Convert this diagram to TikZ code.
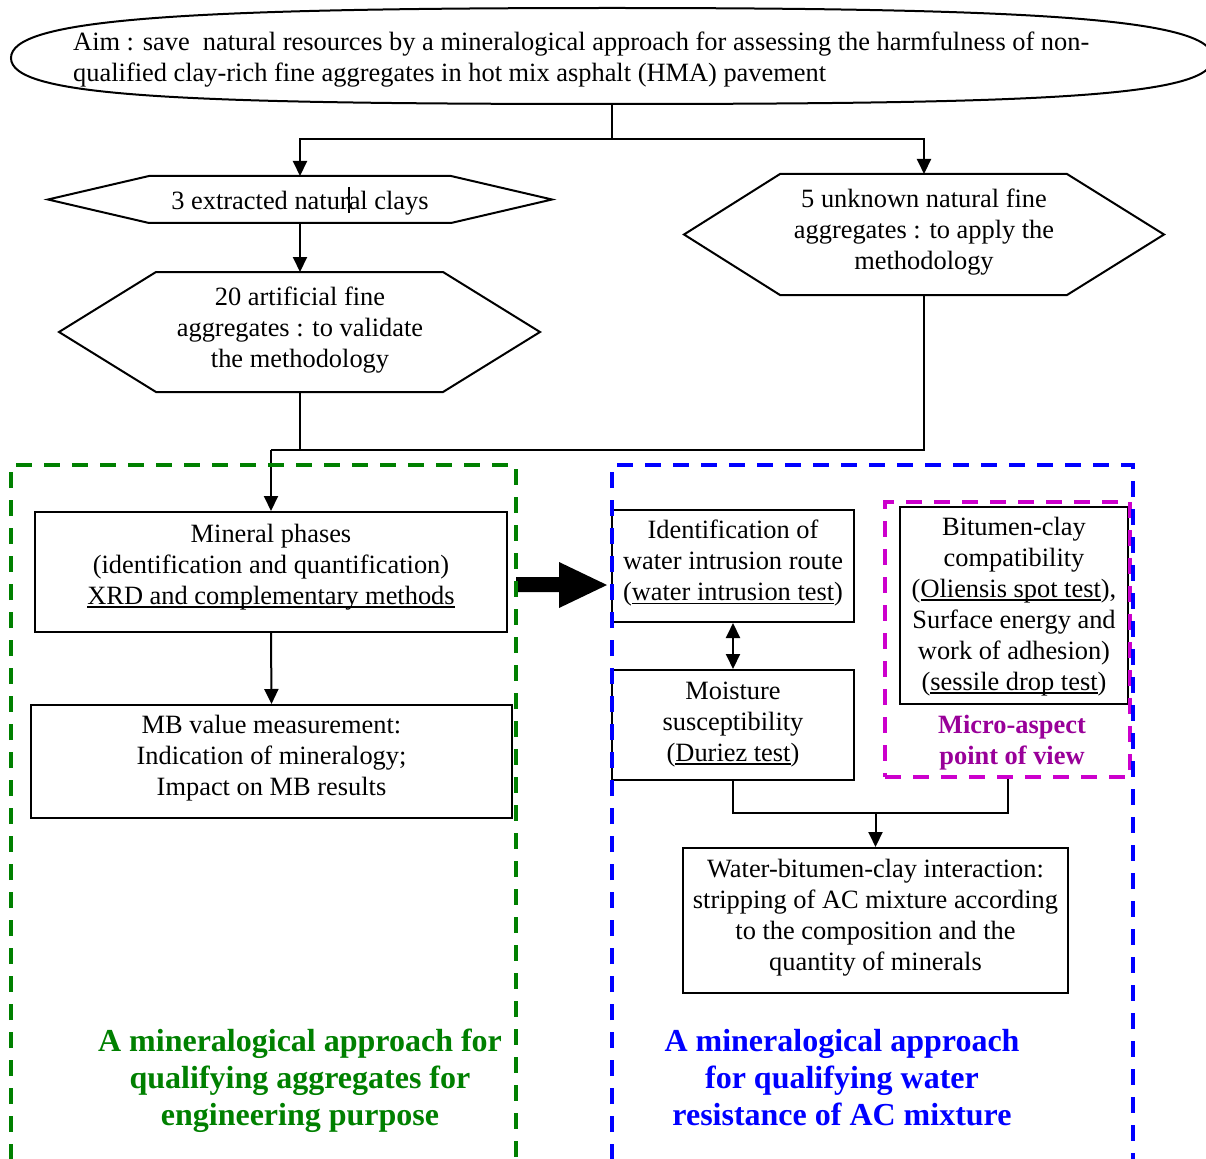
\documentclass[tikz,border=0pt]{standalone}
\usepackage{fontspec}
\setmainfont{Liberation Serif}
\usetikzlibrary{arrows.meta,shapes.geometric}
\definecolor{dgreen}{RGB}{0,128,0}
\definecolor{mblue}{RGB}{0,0,255}
\definecolor{mmag}{RGB}{204,0,204}
\definecolor{mpurp}{RGB}{153,0,153}
\newcommand\ulx[1]{\setbox0\hbox{#1}\rlap{\rule[-3.5pt]{\wd0}{1.6pt}}\box0}
\begin{document}
\begin{tikzpicture}[x=1pt,y=-1pt,
  txt/.style={font=\fontsize{26.4}{31}\selectfont, align=center, inner sep=0pt},
  box/.style={draw, line width=2pt, rectangle, inner sep=0pt},
  flow/.style={line width=2pt, -{Triangle[width=14pt,length=15pt]}},
  dflow/.style={line width=2pt, {Triangle[width=14pt,length=15pt]}-{Triangle[width=14pt,length=15pt]}},
  conn/.style={line width=2pt},
  hexa/.style={line width=2pt, line join=miter},
  frame/.style={line width=4pt, dash pattern=on 16pt off 12pt},
  ttl/.style={font=\bfseries\fontsize{32}{37}\selectfont, align=center, inner sep=0pt},
  mttl/.style={font=\bfseries\fontsize{26.4}{31}\selectfont, align=center, inner sep=0pt, text=mpurp}]
\useasboundingbox (0,0) rectangle (1206,1158);

% aim shape (rounded oval)
\draw[line width=2pt] (11,58) .. controls (11,20) and (170,8) .. (612,8)
  .. controls (1054,8) and (1213,20) .. (1213,58)
  .. controls (1213,96) and (1054,104) .. (612,104)
  .. controls (170,104) and (11,96) .. cycle;
\coordinate (aimS) at (612,104);
\node[txt, align=left, anchor=west] (aim) at (73,60) {Aim : save\ \ natural resources by a mineralogical approach for assessing the harmfulness of non-\\qualified clay-rich fine aggregates in hot mix asphalt (HMA) pavement};

% hexagon 1
\draw[hexa] (48,199.5) -- (149,176) -- (451,176) -- (552,199.5) -- (451,223) -- (149,223) -- cycle;
\coordinate (h1t) at (300,176);
\coordinate (h1b) at (300,223);
\node[txt] (h1) at (300,203) {3 extracted natural clays};
\draw[line width=1.2pt] (349,187) -- (349,213);

% hexagon 2
\draw[hexa] (59,332) -- (156,272) -- (443,272) -- (540,332) -- (443,392) -- (156,392) -- cycle;
\coordinate (h2t) at (300,272);
\coordinate (h2b) at (300,392);
\node[txt] (h2) at (300,330) {20 artificial fine\\aggregates : to validate\\the methodology};

% hexagon 3
\draw[hexa] (684,234.5) -- (780,174) -- (1067,174) -- (1164,234.5) -- (1067,295) -- (780,295) -- cycle;
\coordinate (h3t) at (924,174);
\coordinate (h3b) at (924,295);
\node[txt] (h3) at (924,232) {5 unknown natural fine\\aggregates : to apply the\\methodology};

% boxes
\node[box, minimum width=472pt, minimum height=120pt] (min) at (271,572) {};
\node[txt] (minT) at (271,567) {Mineral phases\\(identification and quantification)\\\ulx{XRD and complementary methods}};
\node[box, minimum width=481pt, minimum height=113pt] (mb) at (271.5,761.5) {};
\node[txt] (mbT) at (271.5,758.5) {MB value measurement:\\Indication of mineralogy;\\Impact on MB results};
\node[box, minimum width=242pt, minimum height=112pt] (ident) at (733,566) {};
\node[txt] (identT) at (733,563.5) {Identification of\\water intrusion route\\(\ulx{water intrusion test})};
\node[box, minimum width=242pt, minimum height=110pt] (moist) at (733,725) {};
\node[txt] (moistT) at (733,724.5) {Moisture\\susceptibility\\(\ulx{Duriez test})};
\node[box, minimum width=228pt, minimum height=197pt] (bit) at (1014,605.5) {};
\node[txt] (bitT) at (1014,606.5) {Bitumen-clay\\compatibility\\(\ulx{Oliensis spot test}),\\Surface energy and\\work of adhesion)\\(\ulx{sessile drop test})};
\node[box, minimum width=385pt, minimum height=145pt] (water) at (875.5,920.5) {};
\node[txt] (waterT) at (875.5,918) {Water-bitumen-clay interaction:\\stripping of AC mixture according\\to the composition and the\\quantity of minerals};

% micro-aspect frame
\node[frame, draw=mmag, minimum width=245pt, minimum height=275pt, inner sep=0pt] (micro) at (1007.5,639.5) {};
\node[mttl] (microttl) at (1012,743) {Micro-aspect\\point of view};

% titles
\node[ttl, text=dgreen] (gttl) at (300,1080.5) {A mineralogical approach for\\qualifying aggregates for\\engineering purpose};
\node[ttl, text=mblue] (bttl) at (842,1078) {A mineralogical approach\\for qualifying water\\resistance of AC mixture};

% connectors
\coordinate (j1) at (612,139);
\draw[conn] (aimS) -- (j1);
\draw[flow] (j1) -| (h1t);
\draw[flow] (j1) -| (h3t);
\draw[flow] (h1b) -- (h2t);
\coordinate (j2) at (271,450);
\draw[conn] (h2b) |- (j2);
\draw[conn] (h3b) |- (j2);
\draw[flow] (j2) -- (min.north);
\draw[flow] (min.south) -- (mb.north);
\draw[dflow] (ident.south) -- (moist.north);
\coordinate (j3) at (875.5,813);
\draw[conn] (moist.south) |- (j3);
\draw[conn] (micro.south) |- (j3);
\draw[flow] (j3) -- (water.north);

% big arrow
\fill (516,577) -- (559,577) -- (559,562) -- (607,585) -- (559,608) -- (559,592) -- (516,592) -- cycle;

% dashed frames
\draw[frame, draw=dgreen] (11,1160) -- (11,465) -- (516,465) -- (516,1160);
\draw[frame, draw=mblue] (612,1160) -- (612,465) -- (1133,465) -- (1133,1160);
\end{tikzpicture}
\end{document}
